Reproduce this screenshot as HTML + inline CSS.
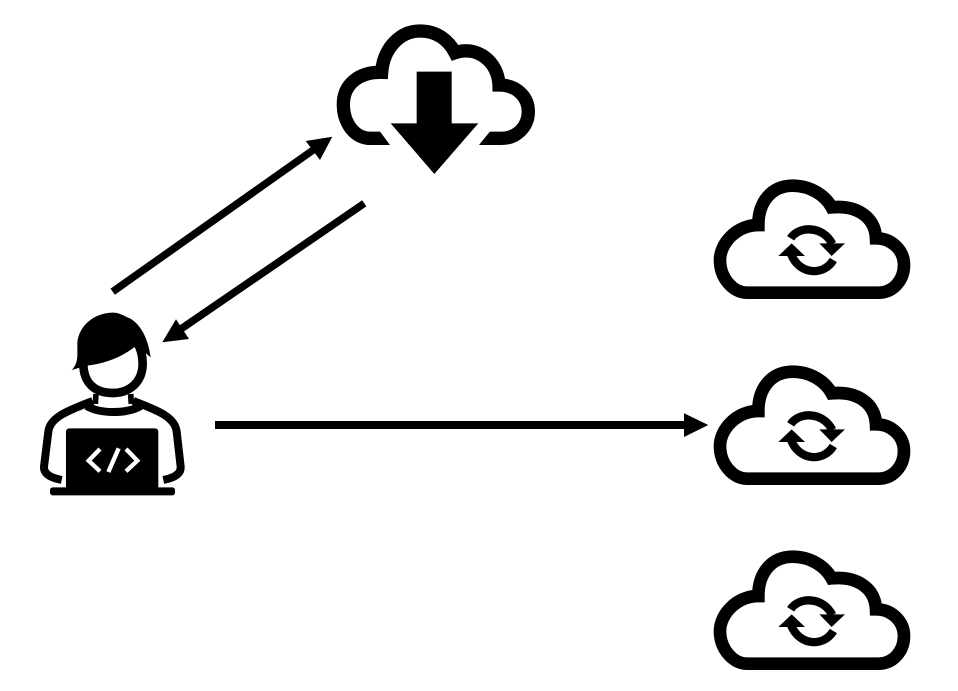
<!DOCTYPE html>
<html>
<head>
<meta charset="utf-8">
<style>
html,body{margin:0;padding:0;background:#fff;width:958px;height:691px;overflow:hidden}
svg{display:block}
</style>
</head>
<body>
<svg width="958" height="691" viewBox="0 0 958 691" xmlns="http://www.w3.org/2000/svg">
<defs>
<g id="sync">
  <path d="M140 368H535C580 368 612 330 612 285C612 240 575 205 528 205C525 140 470 105 395 112C375 75 330 47 278 47C215 47 175 95 175 165C110 165 60 220 60 270C60 325 100 368 140 368Z" fill="none" stroke="#000" stroke-width="38"/>
  <path d="M272 205C295 168 368 165 397 222" fill="none" stroke="#000" stroke-width="25"/>
  <polygon points="358,220 435,220 395,258" fill="#000"/>
  <path d="M400 270C372 318 298 316 273 252" fill="none" stroke="#000" stroke-width="25"/>
  <polygon points="235,258 315,258 275,220" fill="#000"/>
</g>
</defs>

<!-- download cloud -->
<g transform="translate(320 10) scale(.33333)">
  <path d="M230 385H150C105 385 70 340 70 283C70 225 115 185 185 187C190 115 240 63 300 63C350 63 385 90 405 128C470 105 535 155 537 225C590 225 625 260 625 305C625 350 590 385 545 385H460" fill="none" stroke="#000" stroke-width="40"/>
  <polygon points="178,362 210,405 280,408 280,340 212,340" fill="#fff" transform="translate(0 0)"/>
  <polygon points="512,362 477,405 410,408 410,340 475,340" fill="#fff"/>
  <polygon points="290,185 395,185 395,340 475,340 343,492 212,340 290,340" fill="#000"/>
</g>

<!-- sync clouds -->
<use href="#sync" transform="translate(700 170) scale(.33333)"/>
<use href="#sync" transform="translate(700 356) scale(.33333)"/>
<use href="#sync" transform="translate(700 541) scale(.33333)"/>

<!-- developer -->
<g transform="translate(20 300) scale(.33333)">
  <path d="M155 210C175 190 172 170 172 130C175 80 220 38 280 38C300 38 318 52 330 55C365 75 385 120 392 172C378 160 365 150 355 132C310 170 260 190 200 197L190 200Z" fill="#000"/>
  <path d="M190 190C190 250 225 279 278 279C330 279 368 245 368 190C368 165 362 145 350 125" fill="none" stroke="#000" stroke-width="26"/>
  <path d="M233 285V318H327V285Z" fill="none" stroke="none"/>
  <path d="M228 282L226 312M332 282L334 312" stroke="#000" stroke-width="17" fill="none"/>
  <path d="M200 318C240 342 320 342 362 318" fill="none" stroke="#000" stroke-width="24"/>
  <path d="M218 303C150 330 90 350 85 395L72 500C70 525 100 535 125 540" fill="none" stroke="#000" stroke-width="24"/>
  <path d="M340 303C410 330 465 350 470 395L482 500C484 525 455 535 430 540" fill="none" stroke="#000" stroke-width="24"/>
  <rect x="138" y="385" width="277" height="185" rx="10" fill="#000"/>
  <rect x="90" y="562" width="375" height="24" rx="8" fill="#000"/>
  <path d="M240 447L206 482L240 514M318 447L352 482L318 514M296 445L265 516" fill="none" stroke="#fff" stroke-width="13"/>
</g>

<!-- arrows -->
<line x1="112.7" y1="291.7" x2="316" y2="148" stroke="#000" stroke-width="7.5"/>
<polygon points="332.3,136.7 305.7,141 320,160" fill="#000"/>
<line x1="364.3" y1="203.3" x2="178" y2="331" stroke="#000" stroke-width="7.5"/>
<polygon points="162.3,342.3 176,319.3 189,339" fill="#000"/>
<line x1="215" y1="425" x2="690" y2="425" stroke="#000" stroke-width="8"/>
<polygon points="708.3,425 684,413.3 684,437" fill="#000"/>
</svg>
</body>
</html>
